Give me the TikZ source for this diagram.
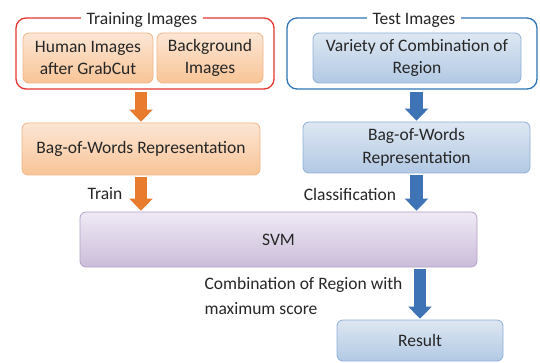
\documentclass[tikz,border=0pt]{standalone}
\usepackage{fontspec}
\setmainfont{Carlito}
\usepackage{tikz}
\usetikzlibrary{arrows.meta}
\usepackage{xcolor}
\definecolor{txt}{HTML}{262626}
\definecolor{ortop}{HTML}{FCE6D5}
\definecolor{orbot}{HTML}{F8C496}
\definecolor{orline}{HTML}{F2B487}
\definecolor{orarr}{HTML}{E97B2E}
\definecolor{bltop}{HTML}{DDE7F2}
\definecolor{blbot}{HTML}{B2C9E4}
\definecolor{blline}{HTML}{8FAFD6}
\definecolor{blarr}{HTML}{3E73B5}
\definecolor{pptop}{HTML}{EFE9F4}
\definecolor{ppbot}{HTML}{CBBDDA}
\definecolor{ppline}{HTML}{B2A1C7}
\definecolor{redframe}{HTML}{E5352F}
\definecolor{blueframe}{HTML}{2F75B5}

\begin{document}
\begin{tikzpicture}[x=1pt,y=-1pt,
	font=\fontsize{17.5}{22.5}\selectfont, text=txt,
	box/.style={rounded corners=6pt, line width=0.8pt, align=center, inner sep=0pt},
	orbox/.style={box, draw=orline, top color=ortop, bottom color=orbot},
	blbox/.style={box, draw=blline, top color=bltop, bottom color=blbot},
	ppbox/.style={box, draw=ppline, top color=pptop, bottom color=ppbot},
	frame/.style={rounded corners=10pt, line width=1.3pt, inner sep=0pt},
	ttl/.style={fill=white, inner xsep=6pt, inner ysep=1pt},
	bigarrow/.style={line width=12.5pt, -{Triangle[length=12pt,width=23pt]}, shorten <=2pt, shorten >=1pt}]
	\useasboundingbox (0,0) rectangle (540,363);

	\node[frame, draw=redframe, minimum width=258pt, minimum height=71pt] at (145,53.5) (train) {};
	\node[ttl] at (142,20) (trainttl) {Training Images};
	\node[orbox, minimum width=130pt, minimum height=50pt] at (88,58) (human) {Human Images\\after GrabCut};
	\node[orbox, minimum width=106pt, minimum height=50pt] at (210,58) (backgr) {Background\\Images};

	\node[frame, draw=blueframe, minimum width=250pt, minimum height=71pt] at (412,53.5) (test) {};
	\node[ttl] at (414,20) (testttl) {Test Images};
	\node[blbox, minimum width=208pt, minimum height=50pt] at (417,58) (variety) {Variety of Combination of\\Region};

	\node[orbox, minimum width=238pt, minimum height=52pt] at (141,149) (orbow) {Bag-of-Words Representation};
	\node[blbox, minimum width=227pt, minimum height=51pt] at (416.5,147.5) (blbow) {Bag-of-Words\\Representation};

	\node[ppbox, minimum width=397pt, minimum height=55pt] at (278.5,239.5) (svm) {SVM};
	\node[blbox, minimum width=166pt, minimum height=41pt] at (420,340.5) (result) {Result};

	\node at (105,194) (trainlbl) {Train};
	\node at (350,194) (classlbl) {Classification};
	\node[anchor=west, align=left] at (201,296) (combolbl) {Combination of Region with\\[2pt]maximum score};

	\draw[bigarrow, orarr] (train.south -| orbow.north) -- (orbow.north);
	\draw[bigarrow, blarr] (test.south -| blbow.north) -- (blbow.north);
	\draw[bigarrow, orarr] (orbow.south) -- (orbow.south |- svm.north);
	\draw[bigarrow, blarr] (blbow.south) -- (blbow.south |- svm.north);
	\draw[bigarrow, blarr] (svm.south -| result.north) -- (result.north);
\end{tikzpicture}
\end{document}
